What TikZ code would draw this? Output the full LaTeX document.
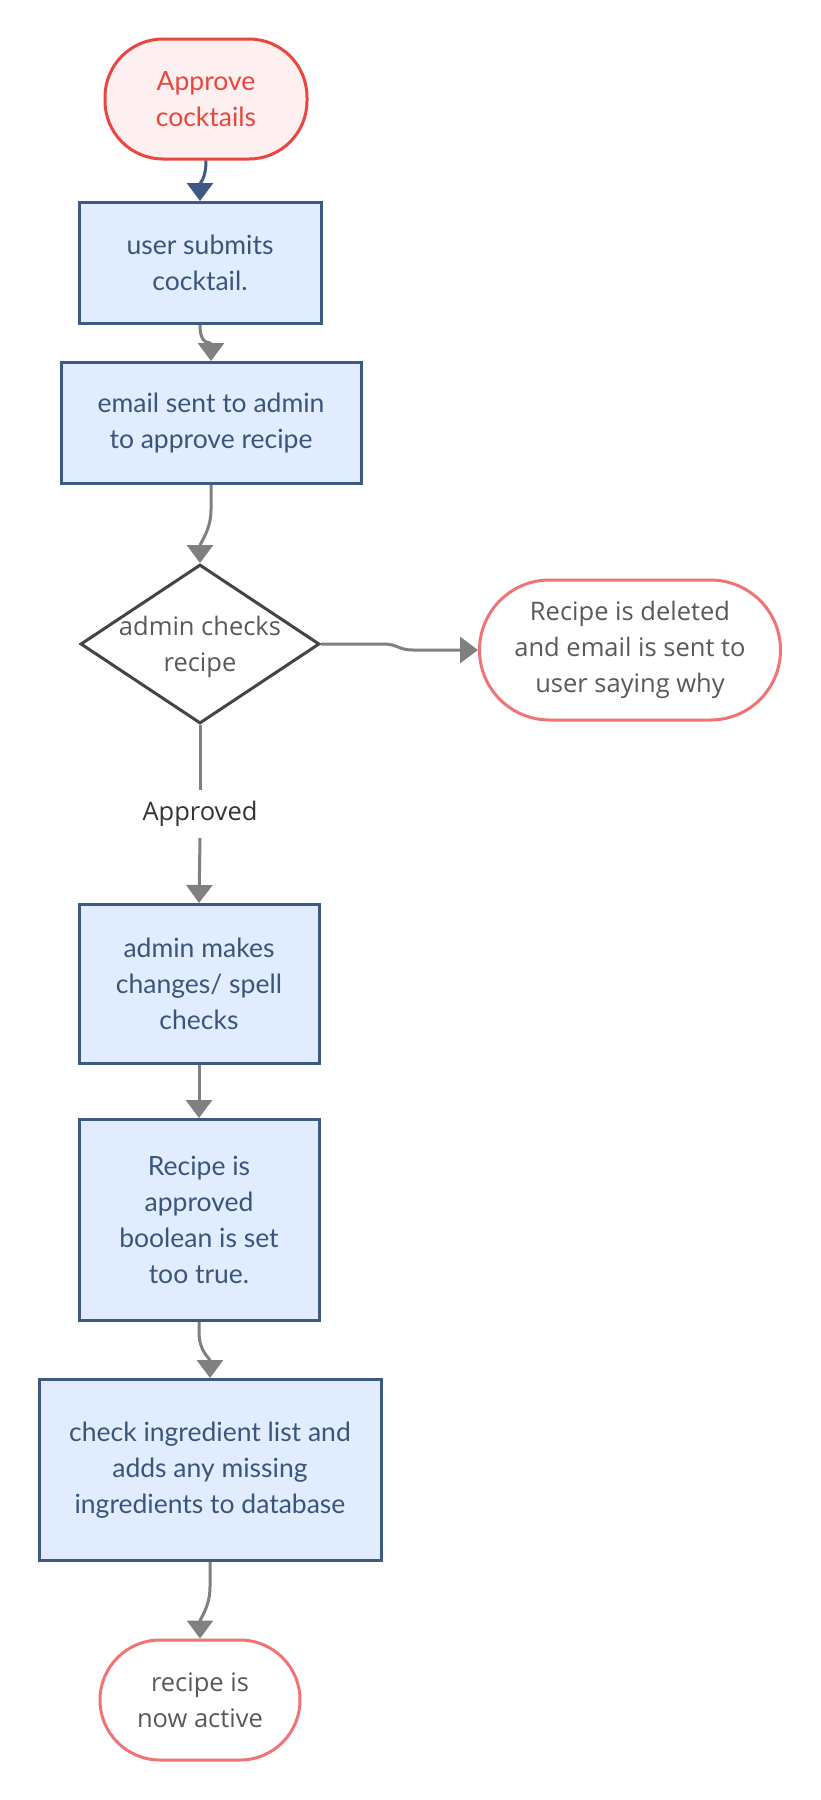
\documentclass[tikz,border=0pt]{standalone}
\usepackage{fontspec}
\setmainfont{Lato}
\newfontfamily\opensans{Open Sans}
\usetikzlibrary{shapes.geometric,arrows.meta,positioning,calc}
\definecolor{boxfill}{HTML}{E1EDFE}
\definecolor{boxline}{HTML}{3E5A82}
\definecolor{boxtext}{HTML}{3B557A}
\definecolor{startline}{HTML}{E8463E}
\definecolor{startfill}{HTML}{FEF0F0}
\definecolor{endline}{HTML}{F07474}
\definecolor{greytext}{HTML}{595959}
\definecolor{arrowgrey}{HTML}{808080}
\definecolor{diamline}{HTML}{444444}
\begin{document}
\begin{tikzpicture}[x=1pt,y=-1pt,
  every node/.style={font=\fontsize{26.5}{36}\selectfont, align=center, inner sep=0pt},
  graytxt/.style={font=\opensans\fontsize{25.5}{36}\selectfont},
  procbox/.style={draw=boxline, fill=boxfill, line width=3pt, text=boxtext},
  startterm/.style={draw=startline, fill=startfill, line width=3pt, text=startline, rounded corners=58pt},
  endterm/.style={draw=endline, fill=white, line width=3pt, text=greytext, graytxt},
  decision/.style={draw=diamline, fill=white, line width=3pt, diamond, minimum width=239pt, minimum height=159pt},
  conn/.style={draw=arrowgrey, line width=3pt, -{Triangle[width=26pt,length=18pt]}},
  plainconn/.style={draw=arrowgrey, line width=3pt}
]
\useasboundingbox (0,0) rectangle (820,1800);
\fill[white] (0,0) rectangle (820,1800);

\node[startterm, minimum width=202pt, minimum height=120pt] (start) at (206,99) {Approve\\cocktails};
\node[procbox, minimum width=242pt, minimum height=121pt] (b1) at (200,263) {user submits\\cocktail.};
\node[procbox, minimum width=300pt, minimum height=121pt] (b2) at (211,423) {email sent to admin\\to approve recipe};
\node[decision] (d) at (200,644) {};
\node[text=greytext, graytxt] (dtext) at (200,647) {admin checks\\recipe};
\node[endterm, rounded corners=70pt, minimum width=301pt, minimum height=140pt] (del) at (630,650) {Recipe is deleted\\and email is sent to\\user saying why};
\node[text=black!80, graytxt, minimum height=48pt] (appr) at (200,814) {Approved};
\node[procbox, minimum width=240pt, minimum height=159pt] (b3) at (199,984) {admin makes\\changes/ spell\\checks};
\node[procbox, minimum width=240pt, minimum height=201pt] (b4) at (199,1220) {Recipe is\\approved\\boolean is set\\too true.};
\node[procbox, minimum width=342pt, minimum height=181pt] (b5) at (210,1470) {check ingredient list and\\adds any missing\\ingredients to database};
\node[endterm, rounded corners=60pt, minimum width=200pt, minimum height=120pt] (fin) at (200,1700) {recipe is\\now active};

\draw[conn, draw=boxline, -{Triangle[width=26pt,length=18pt,fill=boxline]}] (start.south) .. controls +(0,18) and +(0,-18) .. (b1.north);
\draw[conn] (b1.south) .. controls +(0,22) and +(0,-20) .. (b2.north);
\draw[conn] (b2.south) -- ++(0,25) .. controls +(0,20) and +(0,-20) .. (d.north);
\draw[conn] (d.east) -- ++(62,0) .. controls +(15,0) and +(-15,0) .. ++(30,6) -- (del.west);
\draw[plainconn] (d.south) -- (appr.north);
\draw[conn] (appr.south) -- (b3.north);
\draw[conn] (b3.south) -- (b4.north);
\draw[conn] (b4.south) -- ++(0,10) .. controls +(0,20) and +(0,-20) .. (b5.north);
\draw[conn] (b5.south) -- ++(0,25) .. controls +(0,20) and +(0,-20) .. (fin.north);
\end{tikzpicture}
\end{document}
